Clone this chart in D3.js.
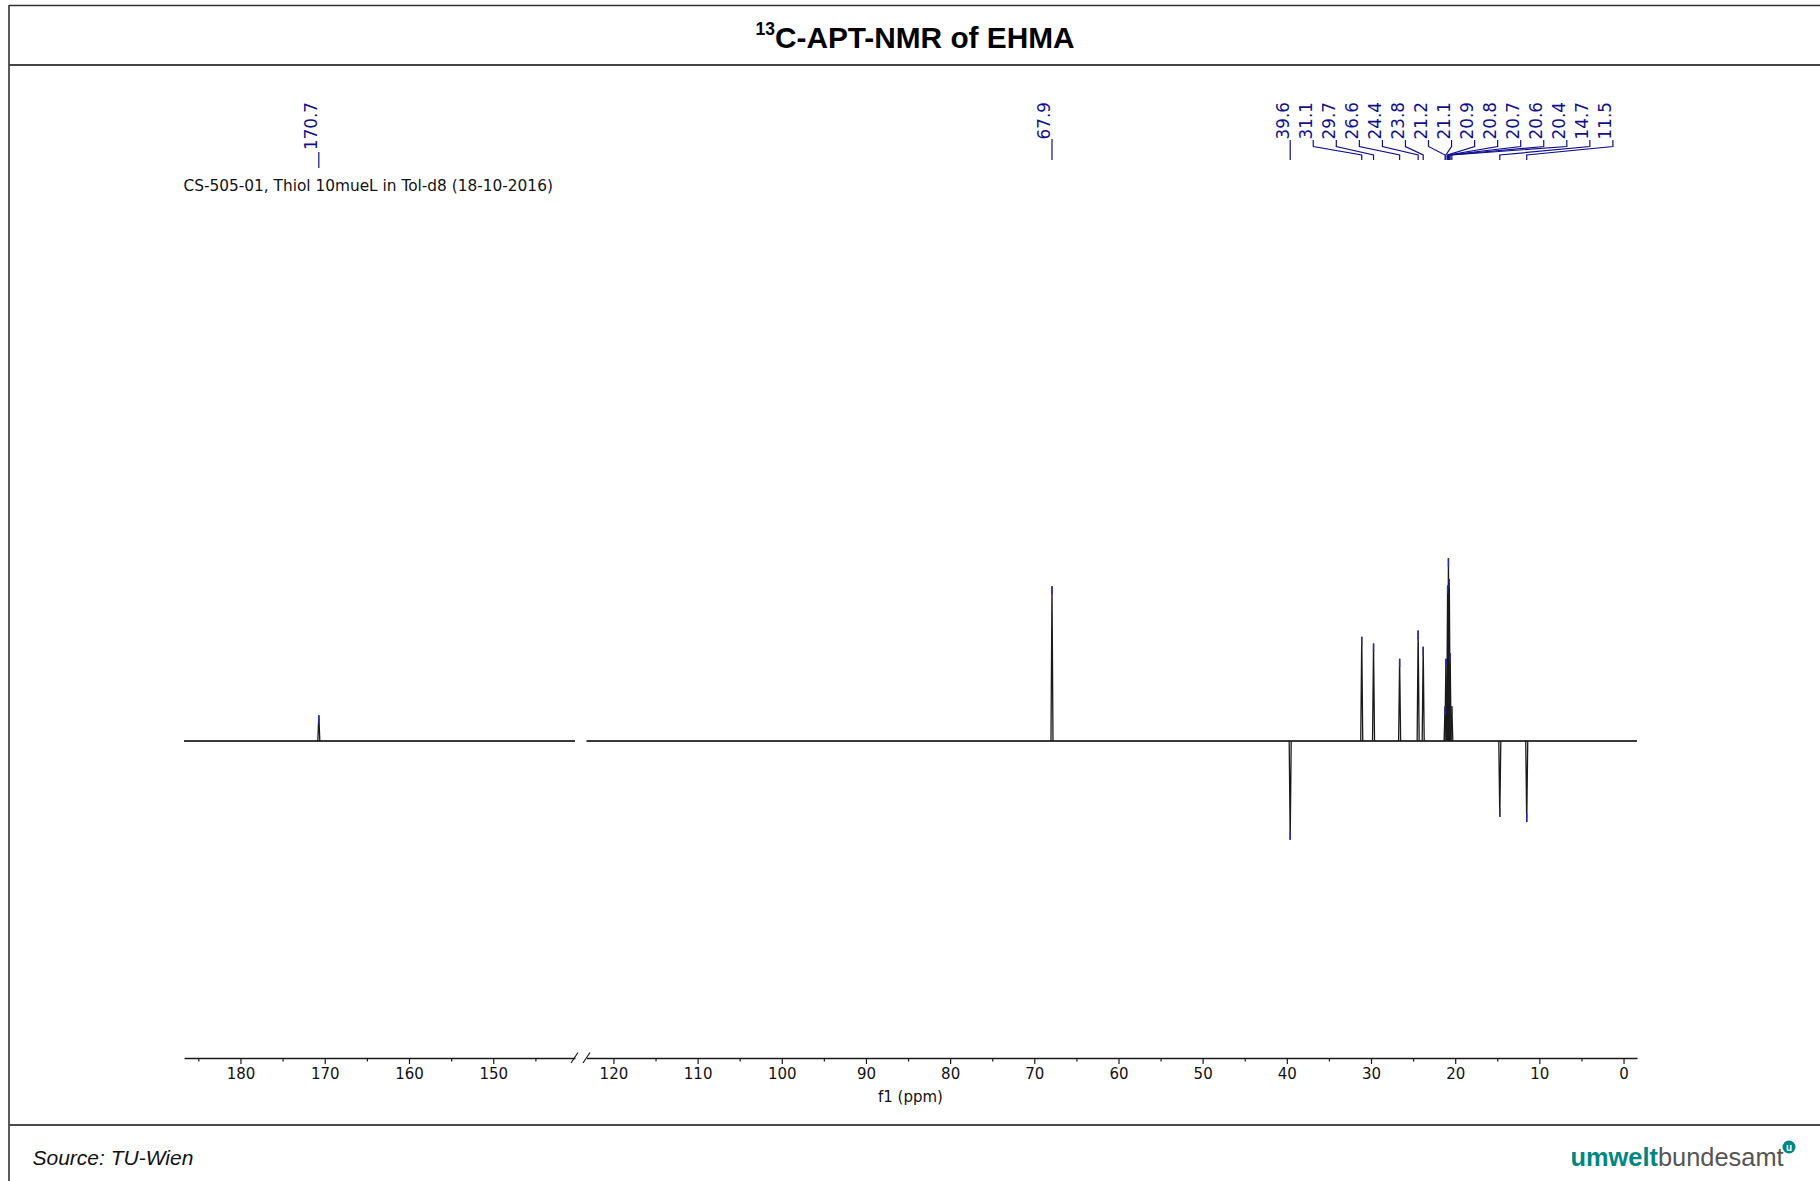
<!DOCTYPE html>
<html>
<head>
<meta charset="utf-8">
<script src="https://cdn.jsdelivr.net/npm/d3@7"></script>
<style>
  body { margin: 0; background: #fff; }
  svg { display: block; }
</style>
</head>
<body>
<svg id="chart" width="1820" height="1181"></svg>
<script>
// 13C APT spectrum: picked peaks (ppm) and signed intensities (tallest peak = 100)
const peakShifts      = [170.7, 67.9, 39.6, 31.1, 29.7, 26.6, 24.4, 23.8, 21.2, 21.1, 20.9, 20.8, 20.7, 20.6, 20.4, 14.7, 11.5];
const peakIntensities = [14.0,  84.5, -54.0, 57.0, 53.3, 45.0, 60.4, 51.5, 19.0, 45.0, 85.0, 100, 88.5, 48.0, 19.0, -41.5, -44.3];

// axis: two panels with a break between them
const leftWindow  = [186.7, 140.3];
const rightWindow = [123.2, -1.6];
const leftMajorTicks  = [180, 170, 160, 150];
const leftMinorTicks  = [185, 175, 165, 155, 145];
const rightMajorTicks = [120, 110, 100, 90, 80, 70, 60, 50, 40, 30, 20, 10, 0];
const rightMinorTicks = [115, 105, 95, 85, 75, 65, 55, 45, 35, 25, 15, 5];

const titleMain = "C-APT-NMR of EHMA";
const titleSup = "13";
const subtitle = "CS-505-01, Thiol 10mueL in Tol-d8 (18-10-2016)";
const xAxisTitle = "f1 (ppm)";
const sourceText = "Source: TU-Wien";

const svg = d3.select("#chart");
const W = 1820, H = 1181;
const BLUE = "#10108c";
const MARK = "#2a2ab4";

svg.append("rect").attr("width", W).attr("height", H).attr("fill", "#fff");

// frame
const frame = svg.append("g").attr("fill", "none");
frame.append("line").attr("x1", 9).attr("x2", W).attr("y1", 5.5).attr("y2", 5.5).attr("stroke", "#333").attr("stroke-width", 1.6);
frame.append("line").attr("x1", 9).attr("x2", 9).attr("y1", 5).attr("y2", H).attr("stroke", "#333").attr("stroke-width", 1.6);
frame.append("line").attr("x1", 9).attr("x2", W).attr("y1", 65).attr("y2", 65).attr("stroke", "#444").attr("stroke-width", 2);
frame.append("line").attr("x1", 9).attr("x2", W).attr("y1", 1125).attr("y2", 1125).attr("stroke", "#4a4a4a").attr("stroke-width", 2);

// title
const title = svg.append("text")
  .attr("x", 915).attr("y", 48)
  .attr("text-anchor", "middle")
  .attr("font-family", "'Liberation Sans', Arial, sans-serif")
  .attr("font-weight", "bold")
  .attr("fill", "#000");
title.append("tspan").attr("font-size", 17.5).attr("dy", -13).text(titleSup);
title.append("tspan").attr("font-size", 29.8).attr("dy", 13).text(titleMain);

// scales
const xLeft  = d3.scaleLinear().domain(leftWindow).range([184, 575]);
const xRight = d3.scaleLinear().domain(rightWindow).range([586.5, 1637]);
const y = d3.scaleLinear().domain([0, 100]).range([741, 558]);
const xOf = ppm => (ppm > leftWindow[1] ? xLeft(ppm) : xRight(ppm));

const peaks = peakShifts.map((ppm, i) => ({ ppm, value: peakIntensities[i] }));

// spectrum trace
const trace = svg.append("g").attr("fill", "none").attr("stroke", "#1a1a1a");
[[xLeft, leftWindow], [xRight, rightWindow]].forEach(([sx, win]) => {
  trace.append("line")
    .attr("x1", sx(win[0])).attr("x2", sx(win[1]))
    .attr("y1", y(0)).attr("y2", y(0))
    .attr("stroke", "#3a3a3a").attr("stroke-width", 1.8);
});
const halfWidth = 0.12;
const spike = d3.line().x(d => xOf(d[0])).y(d => y(d[1]));
trace.selectAll("path.peak").data(peaks).join("path")
  .attr("class", "peak")
  .attr("stroke-width", 1.3)
  .attr("stroke-linejoin", "miter")
  .attr("d", d => spike([[d.ppm + halfWidth, 0], [d.ppm, d.value], [d.ppm - halfWidth, 0]]));

// peak-pick markers at the peak tips
const markLen = 8.5;
svg.append("g").selectAll("line").data(peaks).join("line")
  .attr("x1", d => xOf(d.ppm)).attr("x2", d => xOf(d.ppm))
  .attr("y1", d => y(d.value))
  .attr("y2", d => y(d.value) + (d.value > 0 ? markLen : -markLen))
  .attr("stroke", MARK).attr("stroke-width", 1.4);

// x axes (two panels)
const axisY = 1058;
function drawAxis(scale, major, minor) {
  const g = svg.append("g").attr("transform", `translate(0,${axisY})`);
  g.call(d3.axisBottom(scale).tickValues(major).tickSize(6).tickSizeOuter(0).tickPadding(4.5).tickFormat(d3.format("d")));
  g.call(gg => gg.select(".domain").attr("stroke", "#1a1a1a").attr("stroke-width", 1.5));
  g.selectAll(".tick line").attr("stroke", "#1a1a1a").attr("stroke-width", 1.2);
  g.selectAll(".tick text").attr("font-family", "'DejaVu Sans', Verdana, sans-serif").attr("font-size", 15).attr("fill", "#111");
  const gm = svg.append("g").attr("transform", `translate(0,${axisY})`);
  gm.call(d3.axisBottom(scale).tickValues(minor).tickSize(3.5).tickSizeOuter(0).tickFormat(""));
  gm.select(".domain").remove();
  gm.selectAll(".tick line").attr("stroke", "#1a1a1a").attr("stroke-width", 1.2);
}
drawAxis(xLeft, leftMajorTicks, leftMinorTicks);
drawAxis(xRight, rightMajorTicks, rightMinorTicks);

// axis break marks
const brk = svg.append("g").attr("stroke", "#1a1a1a").attr("stroke-width", 1.2);
[[571, 578], [583, 590]].forEach(([a, b]) => {
  brk.append("line").attr("x1", a).attr("y1", axisY + 5).attr("x2", b).attr("y2", axisY - 5.5);
});

svg.append("text")
  .attr("x", (xLeft.range()[0] + xRight.range()[1]) / 2).attr("y", 1102)
  .attr("text-anchor", "middle")
  .attr("font-family", "'DejaVu Sans', Verdana, sans-serif").attr("font-size", 15).attr("fill", "#111")
  .text(xAxisTitle);

// subtitle
svg.append("text")
  .attr("x", 183.5).attr("y", 191)
  .attr("font-family", "'DejaVu Sans', Verdana, sans-serif").attr("font-size", 15.35).attr("fill", "#111")
  .text(subtitle);

// peak labels
const fmt = d3.format(".1f");
const labels = svg.append("g").attr("fill", BLUE)
  .attr("font-family", "'DejaVu Sans', Verdana, sans-serif").attr("font-size", 16.8);
const links = svg.append("g").attr("fill", "none").attr("stroke", BLUE).attr("stroke-width", 1.2);
const labelTop = 102;

function addLabel(anchorX, ppm) {
  labels.append("text")
    .attr("transform", `translate(${anchorX - 1.5},${labelTop}) rotate(-90)`)
    .attr("text-anchor", "end")
    .text(fmt(ppm));
}

// isolated peaks: straight leader lines
const single = peaks.filter(d => d.ppm > 60);
single.forEach(d => {
  const x = xOf(d.ppm);
  addLabel(x, d.ppm);
  const isLeft = d.ppm > leftWindow[1];
  links.append("line").attr("x1", x).attr("x2", x)
    .attr("y1", isLeft ? 152 : 139).attr("y2", isLeft ? 168 : 160);
});

// crowded aliphatic region: labels fanned out at even spacing
const group = peaks.filter(d => d.ppm < 60).sort((a, b) => b.ppm - a.ppm);
const step = 23.05;
const x0 = xOf(group[0].ppm);
group.forEach((d, i) => {
  const ax = x0 + i * step;
  const px = xOf(d.ppm);
  addLabel(ax, d.ppm);
  links.append("path").attr("d", `M${ax},140V146.5L${px},155V160`);
});

// footer
svg.append("text")
  .attr("x", 32.5).attr("y", 1165)
  .attr("font-family", "'Liberation Sans', Arial, sans-serif").attr("font-style", "italic")
  .attr("font-size", 21).attr("fill", "#111")
  .text(sourceText);

const logo = svg.append("text")
  .attr("x", 1570.5).attr("y", 1166)
  .attr("font-family", "'Liberation Sans', Arial, sans-serif").attr("font-size", 25.4);
logo.append("tspan").attr("font-weight", "bold").attr("fill", "#00877f").text("umwelt");
logo.append("tspan").attr("fill", "#555").text("bundesamt");
svg.append("circle").attr("cx", 1789).attr("cy", 1147).attr("r", 6.5).attr("fill", "#00877f");
svg.append("text").attr("x", 1789).attr("y", 1150.5).attr("text-anchor", "middle")
  .attr("font-family", "'Liberation Sans', Arial, sans-serif").attr("font-weight", "bold")
  .attr("font-size", 10).attr("fill", "#fff").text("u");
</script>
</body>
</html>
